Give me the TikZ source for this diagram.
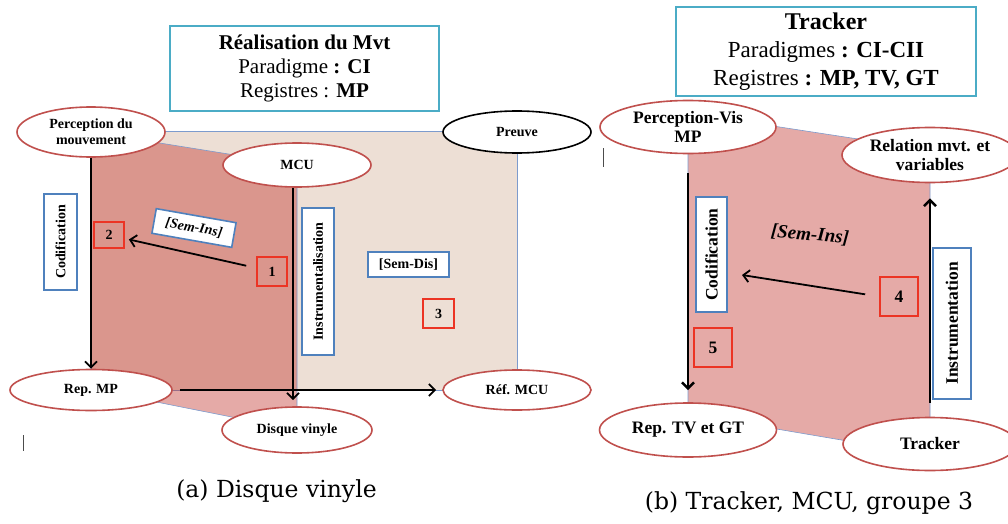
\documentclass[tikz,border=0pt]{standalone}
\usepackage{fontspec}
\setmainfont{Liberation Serif}
\newfontfamily\capfont{DejaVu Serif}
\usepackage{xcolor}
\usepackage{tikz}
\usetikzlibrary{arrows.meta,shapes.geometric}

\definecolor{ovalred}{RGB}{192,80,77}
\definecolor{titleteal}{RGB}{75,172,198}
\definecolor{boxblue}{RGB}{79,129,189}
\definecolor{numred}{RGB}{236,52,36}
\definecolor{planebeige}{RGB}{237,223,213}
\definecolor{planered}{RGB}{190,42,35}
\definecolor{edgeblue}{RGB}{125,155,205}

\begin{document}
\begin{tikzpicture}[
  x=1pt, y=1pt,
  font=\bfseries\fontsize{14}{16}\selectfont,
  oval/.style={draw=ovalred, line width=1.6pt, fill=white, ellipse, inner sep=0pt, align=center},
  titlebox/.style={draw=titleteal, line width=1.8pt, fill=white, inner sep=0pt, align=center},
  vbox/.style={draw=boxblue, line width=1.6pt, fill=white, inner sep=0pt, rotate=90},
  semlbl/.style={draw=boxblue, line width=1.6pt, fill=white, inner sep=0pt, minimum width=81pt, minimum height=25pt},
  numbox/.style={draw=numred, line width=2pt, inner sep=0pt},
  plane/.style={draw=edgeblue, line width=0.6pt},
  flow/.style={-{Straight Barb[length=6pt,width=12pt]}, line width=1.8pt},
  bigtxt/.style={font=\bfseries\fontsize{17.5}{19}\selectfont},
  caption/.style={font=\capfont\fontsize{23.5}{28}\selectfont}
]
\useasboundingbox (0,0) rectangle (1008,-524);

\draw[plane, fill=planebeige] (91,-131) rectangle (517,-390);
\draw[plane, fill=planered, fill opacity=0.4] (91,-132) -- (297,-165) -- (297,-430) -- (91,-389) -- cycle;
\draw[plane, fill=planered, fill opacity=0.4] (688,-113) -- (930,-150) -- (930,-455) -- (688,-414) -- cycle;

\node[titlebox, minimum width=269pt, minimum height=85pt, font=\mdseries\fontsize{21}{24}\selectfont] (titlea) at (304.5,-68.5)
  {\textbf{Réalisation du Mvt}\\Paradigme \textbf{: CI}\\Registres : \textbf{MP}};
\node[titlebox, minimum width=300pt, minimum height=89pt, font=\mdseries\fontsize{23}{28}\selectfont] (titleb) at (826,-51.5)
  {{\fontsize{24}{28}\selectfont\textbf{Tracker}}\\Paradigmes \textbf{: CI-CII}\\Registres \textbf{: MP, TV, GT}};

\node[oval, minimum width=148pt, minimum height=50pt] (perc) at (91,-132) {Perception du\\mouvement};
\node[oval, minimum width=148pt, minimum height=44pt] (mcu) at (297,-165) {MCU};
\node[oval, draw=black, minimum width=148pt, minimum height=42pt] (preuve) at (517,-132) {Preuve};
\node[oval, minimum width=162pt, minimum height=41pt] (repmp) at (91,-390) {Rep. MP};
\node[oval, minimum width=150pt, minimum height=46pt] (disque) at (297,-430) {Disque vinyle};
\node[oval, minimum width=148pt, minimum height=40pt] (refmcu) at (517,-390) {Réf. MCU};

\node[vbox, minimum width=96pt, minimum height=33pt] (codifa) at (60.5,-242) {Codification};
\node[vbox, minimum width=147pt, minimum height=32pt] (instra) at (318,-281.5) {Instrumentalisation};
\node[semlbl, rotate=-10, font=\bfseries\itshape\fontsize{14}{16}\selectfont] (semins) at (194,-228) {[Sem-Ins]};
\node[semlbl] (semdis) at (408.5,-264.5) {[Sem-Dis]};
\node[numbox, minimum width=30pt, minimum height=26pt] (two) at (109,-235) {2};
\node[numbox, minimum width=30pt, minimum height=29pt] (one) at (272,-271.5) {1};
\node[numbox, minimum width=31pt, minimum height=29pt] (three) at (438.5,-313.5) {3};

\draw[flow] (perc) -- (repmp);
\draw[flow, shorten >=6pt] ([xshift=-4pt]mcu.south) -- ([xshift=-4pt]disque.north);
\draw[flow, shorten <=7pt, shorten >=6pt] (repmp) -- (refmcu);
\draw[flow, shorten <=10pt, shorten >=4pt] (one) -- (two);

\node[oval, bigtxt, minimum width=176pt, minimum height=53pt] (percvis) at (688,-127) {Perception-Vis\\MP};
\node[oval, bigtxt, minimum width=176pt, minimum height=55pt] (relation) at (930,-155) {Relation mvt. et\\variables};
\node[oval, bigtxt, minimum width=177pt, minimum height=54pt] (reptv) at (688,-430) {Rep. TV et GT};
\node[oval, bigtxt, minimum width=174pt, minimum height=53pt] (tracker) at (930,-444) {Tracker};

\node[vbox, bigtxt, minimum width=115pt, minimum height=31pt] (codifb) at (711.5,-254.5) {Codification};
\node[vbox, bigtxt, minimum width=151pt, minimum height=38pt] (instrb) at (952,-323.5) {Instrumentation};
\node[rotate=-5, font=\bfseries\itshape\fontsize{19}{21}\selectfont] (seminsb) at (810,-235) {[Sem-Ins]};
\node[numbox, bigtxt, minimum width=38pt, minimum height=39pt] (four) at (899,-296.5) {4};
\node[numbox, bigtxt, minimum width=38pt, minimum height=39pt] (five) at (713,-347.5) {5};
\coordinate (tipfour) at (742,-275);

\draw[flow, line width=2.6pt, shorten <=19pt, shorten >=12pt] (percvis) -- (reptv);
\draw[flow, line width=2.6pt, shorten <=14pt, shorten >=15pt] (tracker) -- (relation);
\draw[flow, shorten <=14pt] (four.west) -- (tipfour);

\draw[line width=0.8pt, black!70] (23,-435) -- (23,-451);
\draw[line width=0.8pt, black!70] (603,-148) -- (603,-167);

\node[caption] (capa) at (276.5,-491) {(a) Disque vinyle};
\node[caption] (capb) at (809,-503) {(b) Tracker, MCU, groupe 3};
\end{tikzpicture}
\end{document}
